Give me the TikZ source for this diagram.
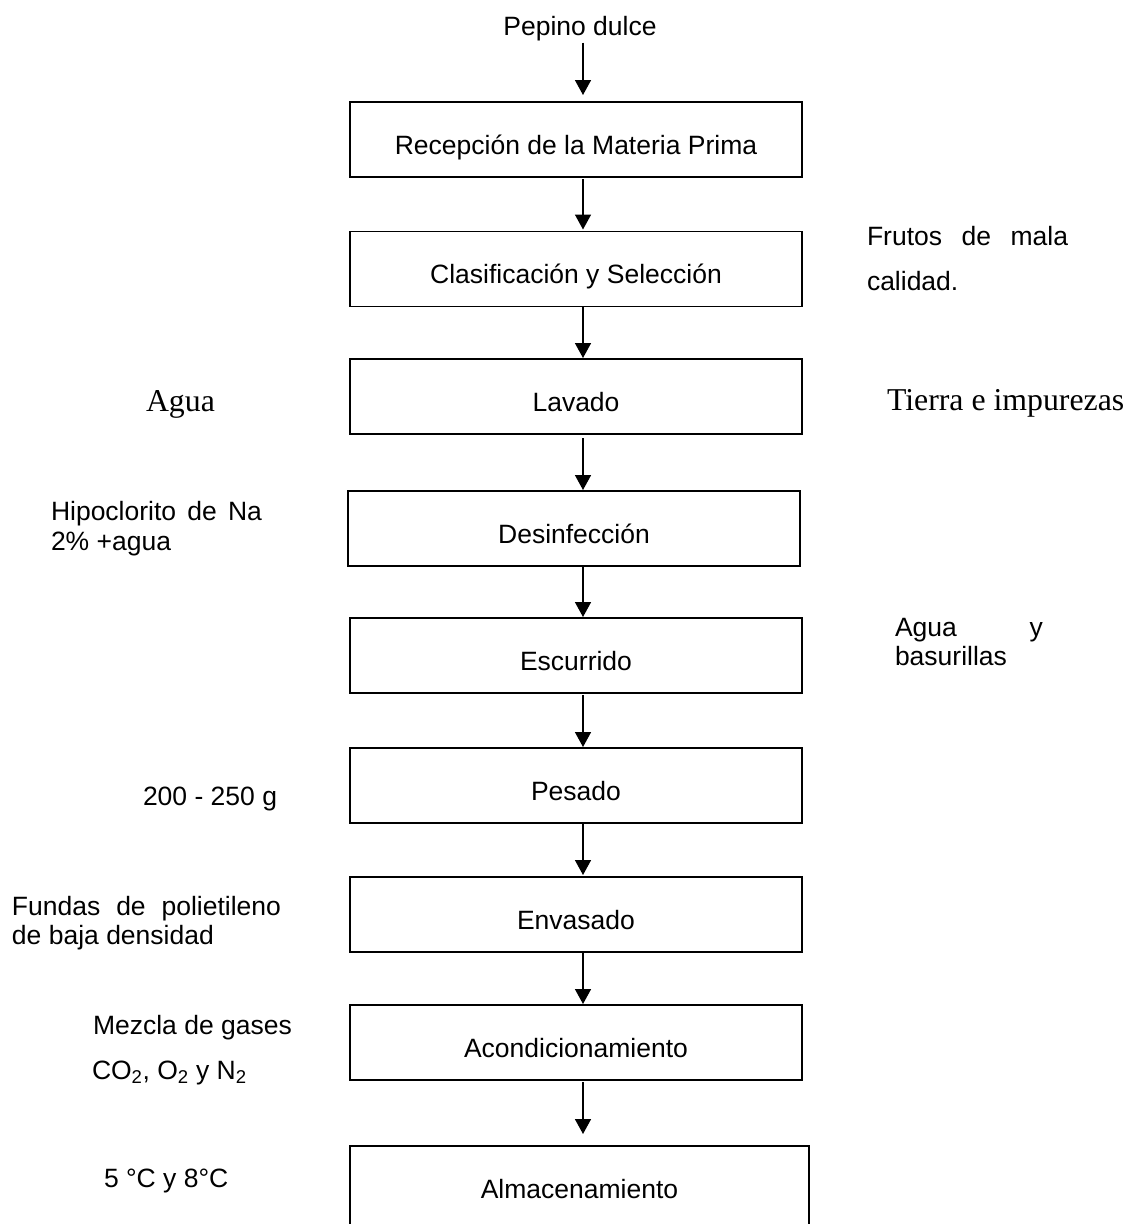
\documentclass[tikz,border=0pt]{standalone}
\usepackage{fontspec}
\setmainfont{Liberation Sans}
\newfontfamily\tnr{Liberation Serif}
\usetikzlibrary{arrows.meta}
\begin{document}
\begin{tikzpicture}[x=1pt,y=-1pt,
  every node/.style={inner sep=0pt, outer sep=0pt},
  txt/.style={font=\fontsize{26.5pt}{31pt}\selectfont},
  serif/.style={font=\tnr\fontsize{31.8pt}{36pt}\selectfont},
  procbox/.style={txt, draw, line width=1.8pt, minimum width=452pt, minimum height=75pt, text height=29pt, text depth=0pt},
  arr/.style={line width=1.6pt, -{Triangle[width=16pt,length=15pt]}}]
\clip (0,0) rectangle (1130,1224);
\coordinate (ax) at (583,0);
% title
\node[txt, anchor=base] (pep) at (580,35) {Pepino dulce};
% process boxes
\node[procbox] (rec) at (576,139.5) {Recepción de la Materia Prima};
\node[procbox] (cla) at (576,269) {Clasificación y Selección};
\node[procbox] (lav) at (576,396.5) {Lavado};
\node[procbox] (des) at (574,528.5) {Desinfección};
\node[procbox] (esc) at (576,655.5) {Escurrido};
\node[procbox] (pes) at (576,785.5) {Pesado};
\node[procbox] (env) at (576,914.5) {Envasado};
\node[procbox] (aco) at (576,1042.5) {Acondicionamiento};
\node[procbox, minimum width=459pt, minimum height=86pt, text depth=11pt] (alm) at (579.5,1189) {Almacenamiento};
% arrows
\draw[arr, shorten <=2pt, shorten >=7pt] (pep.south -| ax) -- (rec.north -| ax);
\draw[arr, shorten <=2pt, shorten >=2pt] (rec.south -| ax) -- (cla.north -| ax);
\draw[arr, shorten >=1pt] (cla.south -| ax) -- (lav.north -| ax);
\draw[arr, shorten <=4pt, shorten >=1pt] (lav.south -| ax) -- (des.north -| ax);
\draw[arr, shorten >=1pt] (des.south -| ax) -- (esc.north -| ax);
\draw[arr, shorten <=2pt, shorten >=1pt] (esc.south -| ax) -- (pes.north -| ax);
\draw[arr, shorten >=2pt] (pes.south -| ax) -- (env.north -| ax);
\draw[arr, shorten >=1pt] (env.south -| ax) -- (aco.north -| ax);
\draw[arr, shorten <=2pt, shorten >=12pt] (aco.south -| ax) -- (alm.north -| ax);
% right side labels
\node[txt, anchor=base west] (fru1) at (867,245) {\makebox[201pt][s]{Frutos de mala}};
\node[txt, anchor=base west] (fru2) at (867,290) {calidad.};
\node[serif, anchor=base west] (tie) at (887,410) {Tierra e impurezas};
\node[txt, anchor=base west] (agy1) at (895,636) {\makebox[148pt][s]{Agua y}};
\node[txt, anchor=base west] (agy2) at (895,665) {basurillas};
% left side labels
\node[serif, anchor=base west] (agu) at (146,411.5) {Agua};
\node[txt, anchor=base west] (hip1) at (51,520) {\makebox[211pt][s]{Hipoclorito de Na}};
\node[txt, anchor=base west] (hip2) at (51,550.5) {2\% +agua};
\node[txt, anchor=base west] (gr) at (143,805) {200 - 250 g};
\node[txt, anchor=base west] (fun1) at (12,915) {\makebox[269pt][s]{Fundas de polietileno}};
\node[txt, anchor=base west] (fun2) at (12,944) {de baja densidad};
\node[txt, anchor=base west] (mez1) at (93,1034) {Mezcla de gases};
\node[txt, anchor=base west] (mez2) at (92,1079) {CO\textsubscript{2}, O\textsubscript{2} y N\textsubscript{2}};
\node[txt, anchor=base west] (tem) at (104,1187) {5 °C y 8°C};
\end{tikzpicture}
\end{document}
